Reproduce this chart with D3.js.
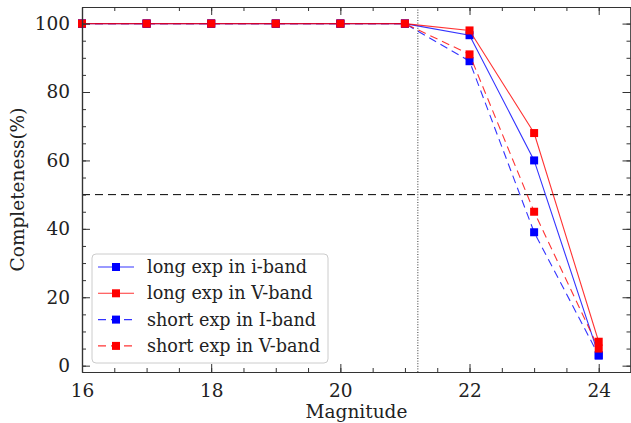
<!DOCTYPE html>
<html>
<head>
<meta charset="utf-8">
<script src="https://cdn.jsdelivr.net/npm/d3@7"></script>
<style>
  body { margin: 0; background: #fff; }
  svg { display: block; font-family: "DejaVu Serif", serif; }
</style>
</head>
<body>
<div id="chart"></div>
<script>
const magnitudes = [16, 17, 18, 19, 20, 21, 22, 23, 24];
const longI  = [100, 100, 100, 100, 100, 100, 96.6, 60, 3];
const longV  = [100, 100, 100, 100, 100, 100, 98, 68, 7];
const shortI = [100, 100, 100, 100, 100, 100, 89, 39, 3];
const shortV = [100, 100, 100, 100, 100, 100, 91, 45, 5];
const seriesNames = ['long exp in i-band', 'long exp in V-band', 'short exp in I-band', 'short exp in V-band'];
const xTicks = [16, 18, 20, 22, 24];
const yTicks = [0, 20, 40, 60, 80, 100];
const limitMag = 21.2;
const limitPct = 50;

const W = 631, H = 423;
const m = { left: 82, right: 0, top: 7, bottom: 51 };

const svg = d3.select('#chart').append('svg')
    .attr('width', W)
    .attr('height', H);

const x = d3.scaleLinear().domain([16, 24.5]).range([m.left, W - m.right]);
const y = d3.scaleLinear().domain([-1.85, 104.85]).range([H - m.bottom, m.top]);

const series = [
    { name: seriesNames[0], values: longI,  color: '#0000ff', dash: null },
    { name: seriesNames[1], values: longV,  color: '#ff0000', dash: null },
    { name: seriesNames[2], values: shortI, color: '#0000ff', dash: '8,5' },
    { name: seriesNames[3], values: shortV, color: '#ff0000', dash: '8,5' }
];

const g = svg.append('g');

// reference lines
g.append('line')
    .attr('x1', x(limitMag)).attr('x2', x(limitMag))
    .attr('y1', y.range()[0]).attr('y2', y.range()[1])
    .attr('stroke', '#000').attr('stroke-width', 0.8)
    .attr('stroke-dasharray', '1,1.6');
g.append('line')
    .attr('x1', x.range()[0]).attr('x2', x.range()[1])
    .attr('y1', y(limitPct)).attr('y2', y(limitPct))
    .attr('stroke', '#000').attr('stroke-width', 1)
    .attr('stroke-dasharray', '8,5');

const line = d3.line()
    .x((d, i) => x(magnitudes[i]))
    .y(d => y(d));

series.forEach(s => {
    g.append('path')
        .datum(s.values)
        .attr('d', line)
        .attr('fill', 'none')
        .attr('stroke', s.color)
        .attr('stroke-opacity', 0.8)
        .attr('stroke-width', 1.1)
        .attr('stroke-dasharray', s.dash);
    g.selectAll(null)
        .data(s.values)
        .enter().append('rect')
        .attr('x', (d, i) => x(magnitudes[i]) - 4)
        .attr('y', d => y(d) - 4)
        .attr('width', 8)
        .attr('height', 8)
        .attr('fill', s.color);
});

// axes: ticks inward on all sides
const fontSize = 18.5;
const legendFont = 17.6;
const xMinor = d3.range(16, 24.51, 0.5);
const yMinor = d3.range(0, 105, 5);

function styleAxis(sel) {
    sel.select('.domain').attr('stroke', '#333').attr('stroke-width', 1.2);
    sel.selectAll('.tick line').attr('stroke', '#333').attr('stroke-width', 1);
    sel.selectAll('.tick text')
        .attr('font-family', '"DejaVu Serif", serif')
        .attr('font-size', fontSize)
        .attr('fill', '#222');
}

svg.append('g')
    .attr('transform', `translate(0,${y.range()[0]})`)
    .call(d3.axisBottom(x).tickValues(xTicks).tickSizeInner(-8).tickSizeOuter(0).tickPadding(12))
    .call(styleAxis);
svg.append('g')
    .attr('transform', `translate(0,${y.range()[0]})`)
    .call(d3.axisBottom(x).tickValues(xMinor).tickSizeInner(-4).tickSizeOuter(0).tickFormat(''))
    .call(styleAxis);
svg.append('g')
    .attr('transform', `translate(0,${y.range()[1]})`)
    .call(d3.axisTop(x).tickValues(xTicks).tickSizeInner(-8).tickSizeOuter(0).tickFormat(''))
    .call(styleAxis);
svg.append('g')
    .attr('transform', `translate(0,${y.range()[1]})`)
    .call(d3.axisTop(x).tickValues(xMinor).tickSizeInner(-4).tickSizeOuter(0).tickFormat(''))
    .call(styleAxis);

svg.append('g')
    .attr('transform', `translate(${x.range()[0]},0)`)
    .call(d3.axisLeft(y).tickValues(yTicks).tickSizeInner(-8).tickSizeOuter(0).tickPadding(12))
    .call(styleAxis);
svg.append('g')
    .attr('transform', `translate(${x.range()[0]},0)`)
    .call(d3.axisLeft(y).tickValues(yMinor).tickSizeInner(-4).tickSizeOuter(0).tickFormat(''))
    .call(styleAxis);
svg.append('g')
    .attr('transform', `translate(${x.range()[1] - 0.5},0)`)
    .call(d3.axisRight(y).tickValues(yTicks).tickSizeInner(-8).tickSizeOuter(0).tickFormat(''))
    .call(styleAxis);
svg.append('g')
    .attr('transform', `translate(${x.range()[1] - 0.5},0)`)
    .call(d3.axisRight(y).tickValues(yMinor).tickSizeInner(-4).tickSizeOuter(0).tickFormat(''))
    .call(styleAxis);

// axis labels
svg.append('text')
    .attr('x', (x.range()[0] + x.range()[1]) / 2)
    .attr('y', 418)
    .attr('text-anchor', 'middle')
    .attr('font-size', fontSize)
    .attr('fill', '#222')
    .text('Magnitude');
svg.append('text')
    .attr('transform', `translate(24,${(y.range()[0] + y.range()[1]) / 2}) rotate(-90)`)
    .attr('text-anchor', 'middle')
    .attr('font-size', fontSize)
    .attr('fill', '#222')
    .text('Completeness(%)');

// legend
const leg = svg.append('g').attr('transform', 'translate(92,254)');
leg.append('rect')
    .attr('width', 236).attr('height', 109)
    .attr('rx', 4)
    .attr('fill', '#fff').attr('fill-opacity', 0.8)
    .attr('stroke', '#ccc').attr('stroke-width', 1);
series.forEach((s, i) => {
    const ly = 13 + i * 26.3;
    leg.append('line')
        .attr('x1', 6).attr('x2', 42)
        .attr('y1', ly).attr('y2', ly)
        .attr('stroke', s.color).attr('stroke-opacity', 0.8)
        .attr('stroke-width', 1.1)
        .attr('stroke-dasharray', s.dash ? '8,5' : null);
    leg.append('rect')
        .attr('x', 24 - 4).attr('y', ly - 4)
        .attr('width', 8).attr('height', 8)
        .attr('fill', s.color);
    leg.append('text')
        .attr('x', 55).attr('y', ly + 6)
        .attr('font-size', legendFont)
        .attr('fill', '#222')
        .text(s.name);
});
</script>
</body>
</html>
